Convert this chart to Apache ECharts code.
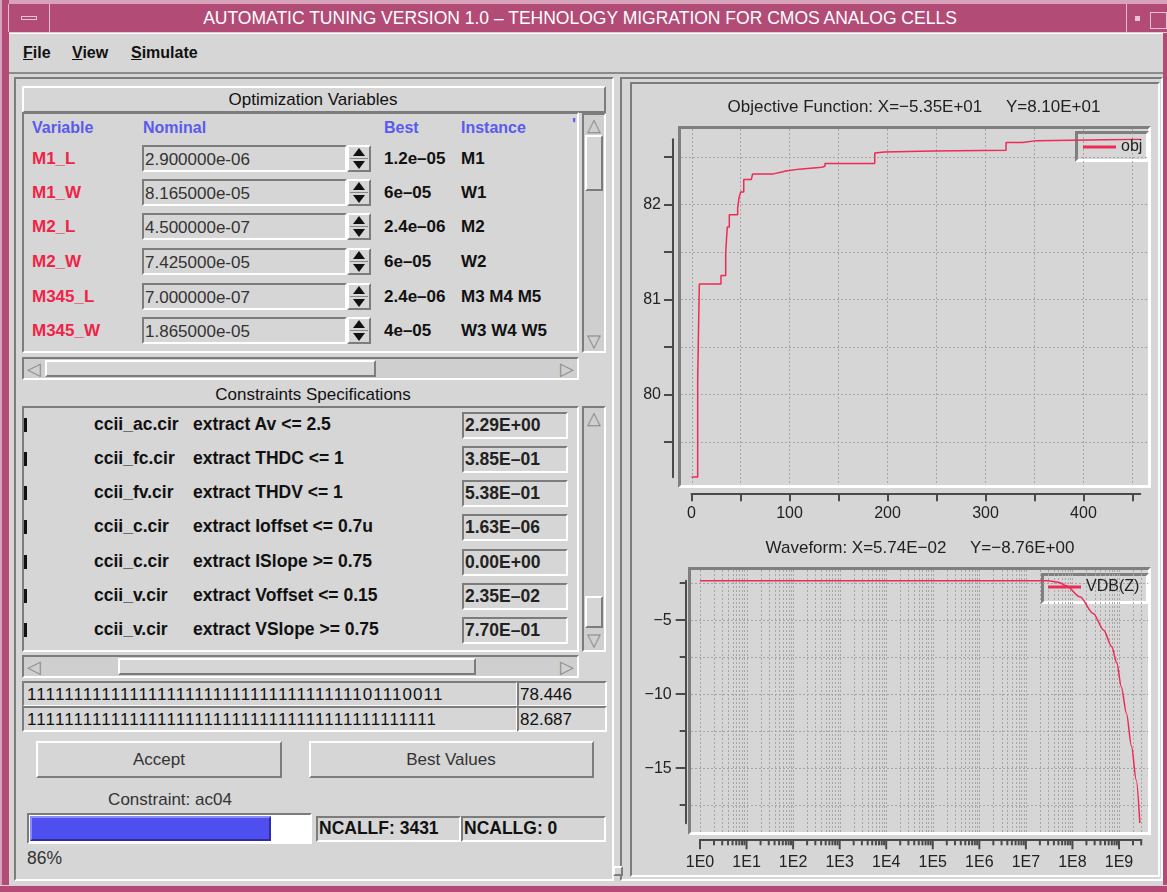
<!DOCTYPE html>
<html>
<head>
<meta charset="utf-8">
<script src="https://cdn.jsdelivr.net/npm/echarts@6/dist/echarts.min.js"></script>
<style>
html, body { margin: 0; padding: 0; }
body { width: 1167px; height: 892px; overflow: hidden; position: relative; background: #d6d6d6;
  font-family: "Liberation Sans", Arial, sans-serif; font-size: 17px; color: #111; }
.a { position: absolute; box-sizing: border-box; }
.sunk { border-style: solid; border-width: 2px; border-color: #7c7c7c #fff #fff #7c7c7c; }
.rais { border-style: solid; border-width: 2px; border-color: #fff #7c7c7c #7c7c7c #fff; }
.t { position: absolute; white-space: nowrap; line-height: 1; transform: translateY(-50%); }
.c { transform: translate(-50%, -50%); }
.b { font-weight: bold; }
#chart { position: absolute; left: 0; top: 0; width: 1167px; height: 892px; z-index: 5; }
</style>
</head>
<body>
<div id="gui"></div>
<div id="chart"></div>
<script>
// objective function history (iteration, value)
const objIter = [0, 6.3, 8.0, 30.1, 34.9, 36.5, 38.6, 47.1, 48.5, 50.2, 53.3, 61.0, 62.4, 83.5, 92.3, 96.1, 110, 132.9, 136.2, 187, 189, 197, 246, 321, 338, 352, 458]
const objValue = [79.13, 80.15, 81.16, 81.25, 81.49, 81.76, 81.89, 81.96, 82.07, 82.13, 82.26, 82.28, 82.32, 82.34, 82.35, 82.37, 82.39, 82.40, 82.43, 82.54, 82.55, 82.56, 82.57, 82.65, 82.67, 82.684, 82.684]
const objXTicks = [0, 50, 100, 150, 200, 250, 300, 350, 400, 450]
const objXLabels = [0, 100, 200, 300, 400]
const objYTicks = [79.5, 80, 80.5, 81, 81.5, 82, 82.5]
const objYLabels = [80, 81, 82]

// waveform VDB(Z) vs frequency
const waveFreq = [1, 1e3, 1e6, 3e7, 5e7, 7.5e7, 1.45e8, 2.8e8, 4.7e8, 7e8, 9e8, 1.12e9, 1.45e9, 1.85e9, 2.35e9, 2.8e9]
const waveDb = [-2.34, -2.34, -2.34, -2.35, -2.45, -2.70, -3.43, -4.55, -5.68, -6.80, -7.9, -9.5, -11.3, -13.5, -15.8, -18.7]
const waveDecades = [0, 1, 2, 3, 4, 5, 6, 7, 8, 9]
const waveMinorMult = [2, 3, 4, 5, 6, 7, 8, 9]
const waveYMajor = [-15, -10, -5]
const waveYMinor = [-17.5, -12.5, -7.5, -2.5]

// GUI tables
const varRows = [
  ['M1_L', '2.900000e-06', '1.2e\u201305', 'M1'],
  ['M1_W', '8.165000e-05', '6e\u201305', 'W1'],
  ['M2_L', '4.500000e-07', '2.4e\u201306', 'M2'],
  ['M2_W', '7.425000e-05', '6e\u201305', 'W2'],
  ['M345_L', '7.000000e-07', '2.4e\u201306', 'M3 M4 M5'],
  ['M345_W', '1.865000e-05', '4e\u201305', 'W3 W4 W5'],
]
const consRows = [
  ['ccii_ac.cir', 'extract Av <= 2.5', '2.29E+00'],
  ['ccii_fc.cir', 'extract THDC <= 1', '3.85E\u201301'],
  ['ccii_fv.cir', 'extract THDV <= 1', '5.38E\u201301'],
  ['ccii_c.cir', 'extract Ioffset <= 0.7u', '1.63E\u201306'],
  ['ccii_c.cir', 'extract ISlope >= 0.75', '0.00E+00'],
  ['ccii_v.cir', 'extract Voffset <= 0.15', '2.35E\u201302'],
  ['ccii_v.cir', 'extract VSlope >= 0.75', '7.70E\u201301'],
]
const bitsNow = '111111111111111111111111111111111111' + '01110011'
const bitsBest = '11111111111111111111111111111111111111111111'

const gui = document.getElementById('gui')
function box(cls, x, y, w, h, style) {
  const d = document.createElement('div')
  d.className = 'a ' + cls
  Object.assign(d.style, { left: x + 'px', top: y + 'px', width: w + 'px', height: h + 'px' }, style || {})
  gui.appendChild(d)
  return d
}
function txt(x, y, s, cls, style) {
  const d = document.createElement('div')
  d.className = 't ' + (cls || '')
  d.innerHTML = s
  Object.assign(d.style, { left: x + 'px', top: y + 'px' }, style || {})
  gui.appendChild(d)
  return d
}
function vscroll(x, y, h, thumbY, thumbH) {
  box('sunk', x, y, 24, h, { background: '#cfcfcf' })
  txt(x + 12, y + 12, '\u25B3', 'c', { color: '#8a8a8a', fontSize: '18px' })
  txt(x + 12, y + h - 12, '\u25BD', 'c', { color: '#8a8a8a', fontSize: '18px' })
  box('rais', x + 3, thumbY, 18, thumbH, { background: '#d6d6d6' })
}
function hscroll(x, y, w, thumbX, thumbW) {
  box('sunk', x, y, w, 23, { background: '#cfcfcf' })
  txt(x + 12, y + 12, '\u25C1', 'c', { color: '#8a8a8a', fontSize: '18px' })
  txt(x + w - 12, y + 12, '\u25B7', 'c', { color: '#8a8a8a', fontSize: '18px' })
  box('rais', thumbX, y + 3, thumbW, 17, { background: '#d6d6d6' })
}

// window decoration
box('', 0, 0, 1167, 33, { background: '#b24c77', borderTop: '4px solid #d9a2bb', borderBottom: '1px solid #e8c8d6' })
box('', 0, 0, 9, 892, { background: '#b24c77', borderLeft: '2px solid #d9a2bb' })
box('', 1163, 33, 4, 859, { background: '#b24c77' })
box('', 0, 885, 1167, 7, { background: '#b24c77', borderTop: '1px solid #e8c8d6' })
box('', 8, 4, 42, 28, { borderRight: '1px solid #e3bccd', borderLeft: '1px solid #e3bccd' })
box('', 21, 16, 16, 4, { border: '1px solid #e6c3d3' })
box('', 1126, 4, 22, 28, { borderLeft: '1px solid #e3bccd' })
box('', 1135, 16, 5, 5, { background: '#e6c3d3' })
box('', 1150, 12, 17, 17, { border: '1px solid #e6c3d3' })
txt(580, 19, 'AUTOMATIC TUNING VERSION 1.0 \u2013 TEHNOLOGY MIGRATION FOR CMOS ANALOG CELLS', 'c', { color: '#fff', fontSize: '17.5px' })

// menu bar
box('', 9, 33, 1154, 41, { borderTop: '1px solid #fff', borderBottom: '2px solid #8a8a8a' })
txt(23, 53, '<u>F</u>ile', 'b', { fontSize: '16px' })
txt(72, 53, '<u>V</u>iew', 'b', { fontSize: '16px' })
txt(131, 53, '<u>S</u>imulate', 'b', { fontSize: '16px' })

// panels
box('sunk', 14, 77, 600, 804)
box('sunk', 620, 77, 543, 804)
box('sunk', 630, 82, 530, 795)
box('rais', 613, 866, 10, 10, { background: '#d6d6d6' })

// optimization variables
box('rais', 22, 86, 584, 27)
txt(313, 99, 'Optimization Variables', 'c')
box('sunk', 22, 112, 557, 241)
vscroll(582, 113, 240, 135, 56)
const hdrColor = '#5a5aee'
txt(32, 128, 'Variable', 'b', { color: hdrColor, fontSize: '16px' })
txt(143, 128, 'Nominal', 'b', { color: hdrColor, fontSize: '16px' })
txt(384, 128, 'Best', 'b', { color: hdrColor, fontSize: '16px' })
txt(461, 128, 'Instance', 'b', { color: hdrColor, fontSize: '16px' })
txt(572, 124, '\u0027', 'b', { color: hdrColor })
const varY = [158, 192, 226, 261, 296, 330]
varRows.forEach((r, i) => {
  const y = varY[i]
  txt(32, y, r[0], 'b', { color: '#ee2448' })
  box('sunk', 142, y - 13, 205, 27, { background: '#d6d6d6' })
  txt(145, y + 1, r[1], '', { color: '#333' })
  box('rais', 347, y - 13, 24, 27)
  box('', 353, y - 10, 0, 0, { borderLeft: '6px solid transparent', borderRight: '6px solid transparent', borderBottom: '8px solid #111' })
  box('', 353, y + 3, 0, 0, { borderLeft: '6px solid transparent', borderRight: '6px solid transparent', borderTop: '8px solid #111' })
  box('', 350, y, 18, 1, { background: '#888' })
  txt(384, y, r[2], 'b')
  txt(461, y, r[3], 'b')
})
hscroll(22, 357, 557, 45, 331)

// constraints
txt(313, 394, 'Constraints Specifications', 'c')
box('sunk', 22, 406, 557, 246)
vscroll(582, 406, 246, 596, 32)
const consY = [425, 459, 493, 527, 562, 596, 630]
consRows.forEach((r, i) => {
  const y = consY[i]
  box('', 24, y - 7, 3, 14, { background: '#111' })
  txt(94, y, r[0], 'b', { fontSize: '17.5px' })
  txt(193, y, r[1], 'b', { fontSize: '17.5px' })
  box('sunk', 462, y - 13, 106, 27)
  txt(465, y + 1, r[2], 'b', { color: '#222', fontSize: '17.5px' })
})
hscroll(22, 655, 557, 118, 358)

box('sunk', 22, 681, 496, 26)
txt(27, 694, bitsNow, '', { letterSpacing: '1.1px' })
box('sunk', 517, 681, 90, 26)
txt(520, 694, '78.446')
box('sunk', 22, 706, 496, 26)
txt(27, 719, bitsBest, '', { letterSpacing: '1.1px' })
box('sunk', 517, 706, 90, 26)
txt(520, 719, '82.687')

box('rais', 36, 741, 246, 37)
txt(159, 759, 'Accept', 'c', { color: '#333' })
box('rais', 309, 741, 285, 37)
txt(451, 759, 'Best Values', 'c', { color: '#333' })
txt(170, 799, 'Constraint: ac04', 'c', { color: '#333' })

box('sunk', 27, 813, 285, 31, { background: '#fff' })
box('rais', 30, 816, 241, 25, { background: '#4f4ff0', borderColor: '#8c8cff #2d2da8 #2d2da8 #8c8cff' })
box('sunk', 316, 816, 145, 26)
txt(319, 829, 'NCALLF: 3431', 'b', { fontSize: '17.5px' })
box('sunk', 461, 816, 145, 26)
txt(464, 829, 'NCALLG: 0', 'b', { fontSize: '17.5px' })
txt(27, 859, '86%', '', { color: '#333', fontSize: '17.5px' })

// plot frames and legend boxes
const frameBorder = { borderStyle: 'solid', borderWidth: '3px', borderColor: '#7f7f7f #fff #fff #7f7f7f' }
box('', 678, 126, 473, 362, frameBorder)
box('', 688, 567, 463, 268, frameBorder)
box('', 1075, 131, 74, 31, frameBorder)
box('', 1041, 573, 108, 31, frameBorder)

// ---------------- charts ----------------
const LINE = '#ee2a55'
const GRID = '#a6a6a6'
const AXIS = '#4a4a4a'
const chart = echarts.init(document.getElementById('chart'), null, { renderer: 'canvas' })

function gridLines(pads, tick) {
  return function (params, api) {
    const cs = params.coordSys
    const p = api.coord([api.value(0), api.value(1)])
    const children = []
    if (api.value(2) === 0) {
      // vertical line
      children.push({ type: 'line', shape: { x1: Math.round(p[0]) + 0.5, y1: cs.y - pads.top, x2: Math.round(p[0]) + 0.5, y2: cs.y + cs.height + pads.bottom },
        style: { stroke: GRID, lineWidth: 1, lineDash: [2, 2] } })
      if (tick) {
        const ay = cs.y + cs.height + tick.offset
        const len = api.value(3) ? tick.major : tick.minor
        children.push({ type: 'line', shape: { x1: p[0], y1: ay, x2: p[0], y2: ay + len }, style: { stroke: AXIS, lineWidth: 2 } })
      }
    } else {
      children.push({ type: 'line', shape: { x1: cs.x - pads.left, y1: Math.round(p[1]) + 0.5, x2: cs.x + cs.width + pads.right, y2: Math.round(p[1]) + 0.5 },
        style: { stroke: GRID, lineWidth: 1, lineDash: [2, 2] } })
    }
    return { type: 'group', children }
  }
}

const waveVLines = []
waveDecades.forEach(d => {
  waveVLines.push([Math.pow(10, d), -18.72, 0, 1])
  waveMinorMult.forEach(k => {
    const f = k * Math.pow(10, d)
    if (f <= 3e9) waveVLines.push([f, -18.72, 0, 0])
  })
})

const minus = v => String(v).replace('-', '\u2212')
const labelFont = { fontSize: 16, color: '#222', fontFamily: 'Liberation Sans' }

chart.setOption({
  animation: false,
  textStyle: { fontFamily: 'Liberation Sans' },
  grid: [
    { left: 691.5, top: 139.3, width: 448.8, height: 338 },
    { left: 700, top: 580.7, width: 441.2, height: 242.6 },
  ],
  xAxis: [
    { type: 'value', gridIndex: 0, min: 0, max: 458, position: 'bottom', offset: 16,
      axisLine: { onZero: false, lineStyle: { color: AXIS, width: 2 } },
      axisTick: { customValues: objXTicks, length: 8, lineStyle: { color: AXIS, width: 2 } },
      axisLabel: { customValues: objXLabels, margin: 12, ...labelFont },
      splitLine: { show: false } },
    { type: 'log', logBase: 10, gridIndex: 1, min: 1, max: 3e9, position: 'bottom', offset: 16,
      axisLine: { onZero: false, lineStyle: { color: AXIS, width: 2 } },
      axisTick: { show: false },
      axisLabel: { margin: 15, ...labelFont, showMaxLabel: false,
        formatter: v => {
          const e = Math.log10(v)
          return Math.abs(e - Math.round(e)) < 1e-6 && waveDecades.includes(Math.round(e)) ? '1E' + Math.round(e) : ''
        } },
      splitLine: { show: false }, minorTick: { show: false } },
  ],
  yAxis: [
    { type: 'value', gridIndex: 0, min: 79.126, max: 82.684, position: 'left', offset: 18.5,
      axisLine: { show: true, onZero: false, lineStyle: { color: AXIS, width: 2 } },
      axisTick: { show: true, customValues: objYTicks, length: 9, lineStyle: { color: AXIS, width: 2 } },
      axisLabel: { customValues: objYLabels, margin: 12, ...labelFont },
      splitLine: { show: false } },
    { type: 'value', gridIndex: 1, min: -18.72, max: -2.34, position: 'left', offset: 14.3,
      axisLine: { show: true, onZero: false, lineStyle: { color: AXIS, width: 2 } },
      axisTick: { show: true, customValues: waveYMajor, length: 10, lineStyle: { color: AXIS, width: 2 } },
      axisLabel: { customValues: waveYMajor, margin: 14, formatter: minus, ...labelFont },
      splitLine: { show: false } },
    { type: 'value', gridIndex: 1, min: -18.72, max: -2.34, position: 'left', offset: 14.3,
      axisLine: { show: false, onZero: false },
      axisTick: { show: true, customValues: waveYMinor, length: 6, lineStyle: { color: AXIS, width: 2 } },
      axisLabel: { show: false },
      splitLine: { show: false } },
  ],
  legend: [
    { data: ['obj'], left: 1083, top: 139, padding: 0, itemWidth: 33, itemHeight: 3, icon: 'rect', itemGap: 0,
      textStyle: { fontSize: 16, color: '#222' } },
    { data: ['VDB(Z)'], left: 1048, top: 579, padding: 0, itemWidth: 33, itemHeight: 3, icon: 'rect', itemGap: 0,
      textStyle: { fontSize: 16, color: '#222' } },
  ],
  graphic: [
    { type: 'text', x: 914, y: 107, style: { text: 'Objective Function: X=\u22125.35E+01     Y=8.10E+01', textAlign: 'center', textVerticalAlign: 'middle', font: '17px "Liberation Sans"', fill: '#222' } },
    { type: 'text', x: 920, y: 548, style: { text: 'Waveform: X=5.74E\u221202     Y=\u22128.76E+00', textAlign: 'center', textVerticalAlign: 'middle', font: '17px "Liberation Sans"', fill: '#222' } },
  ],
  series: [
    { type: 'custom', name: 'objGrid', xAxisIndex: 0, yAxisIndex: 0, silent: true, z: 1,
      renderItem: gridLines({ top: 10.3, bottom: 8, left: 10.5, right: 8 }),
      data: objXTicks.map(v => [v, 79.126, 0, 0]).concat(objYTicks.map(v => [0, v, 1, 0])) },
    { type: 'custom', name: 'waveGrid', xAxisIndex: 1, yAxisIndex: 1, silent: true, z: 1,
      renderItem: gridLines({ top: 10.7, bottom: 8.7, left: 9, right: 7 }, { offset: 16, major: 10, minor: 6 }),
      data: waveVLines.concat(waveYMajor.concat(waveYMinor).map(v => [1, v, 1, 0])) },
    { type: 'line', name: 'obj', xAxisIndex: 0, yAxisIndex: 0, step: 'end', z: 3,
      data: objIter.map((x, i) => [x, objValue[i]]),
      showSymbol: false, lineStyle: { color: LINE, width: 1.5 }, itemStyle: { color: LINE } },
    { type: 'line', name: 'VDB(Z)', xAxisIndex: 1, yAxisIndex: 1, z: 3, smooth: 0.3, smoothMonotone: 'x',
      data: waveFreq.map((f, i) => [f, waveDb[i]]),
      showSymbol: false, lineStyle: { color: LINE, width: 1.5 }, itemStyle: { color: LINE } },
  ],
})
</script>
</body>
</html>
